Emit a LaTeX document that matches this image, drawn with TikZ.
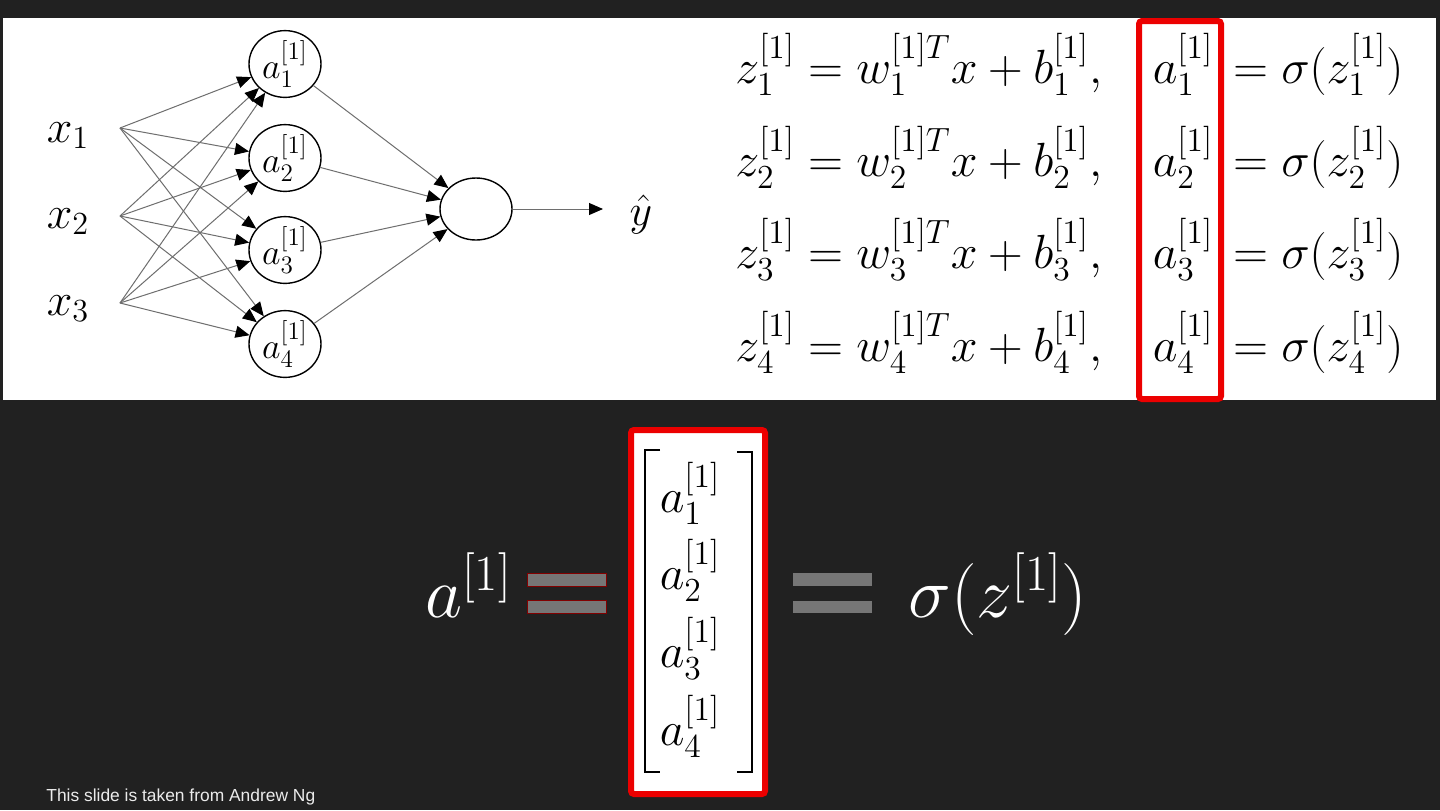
\RequirePackage{fix-cm}
\documentclass[tikz,border=0pt]{standalone}
\usepackage{amsmath,amssymb}
\usepackage{fontspec}
\setsansfont{Liberation Sans}
\usetikzlibrary{arrows.meta,positioning,shapes.geometric}
\definecolor{slidebg}{RGB}{33,33,33}
\definecolor{slidered}{RGB}{236,0,0}
\definecolor{bargray}{RGB}{118,118,118}
\definecolor{wiregray}{RGB}{110,110,110}

\begin{document}
\begin{tikzpicture}[x=0.5pt,y=-0.5pt,
  unit/.style={ellipse,draw,line width=0.7pt,minimum width=36pt,minimum height=31pt,inner sep=0pt,fill=white,font=\fontsize{18}{20}\selectfont},
  wire/.style={-{Triangle[length=7pt,width=6pt,black]},draw=wiregray,line width=0.5pt},
  inlabel/.style={anchor=base,font=\fontsize{23}{26}\selectfont},
  eqline/.style={anchor=base west,inner sep=0pt,font=\fontsize{24}{28}\selectfont},
  eqcol/.style={anchor=base,inner sep=0pt,font=\fontsize{24}{28}\selectfont},
  bigmath/.style={anchor=base west,inner sep=0pt,text=white,font=\fontsize{36}{40}\selectfont},
  redbox/.style={draw=slidered,line width=3pt,rounded corners=1.5pt,inner sep=0pt},
  bar/.style={fill=bargray}
]
  \useasboundingbox (0,0) rectangle (1440,810);
  \fill[slidebg] (0,0) rectangle (1440,810);
  \fill[white] (3,18) rectangle (1436,400);

  % network
  \node[inlabel] (x1) at (68,142) {$x_1$};
  \node[inlabel] (x2) at (68,228) {$x_2$};
  \node[inlabel] (x3) at (68,315) {$x_3$};
  \coordinate (in1) at (120,128);
  \coordinate (in2) at (120,216);
  \coordinate (in3) at (120,303);

  \node[unit] (h1) at (285,64) {$a^{[1]}_1$};
  \node[unit] (h2) at (285,158) {$a^{[1]}_2$};
  \node[unit] (h3) at (285,250) {$a^{[1]}_3$};
  \node[unit] (h4) at (285,344) {$a^{[1]}_4$};
  \node[unit] (out) at (476,209) {};
  \node[inner sep=0pt,font=\fontsize{22}{24}\selectfont] (yhat) at (641,214) {$\hat{y}$};
  \coordinate (yend) at (603,209);

  \draw[wire] (in1)--(h1); \draw[wire] (in1)--(h2); \draw[wire] (in1)--(h3); \draw[wire] (in1)--(h4);
  \draw[wire] (in2)--(h1); \draw[wire] (in2)--(h2); \draw[wire] (in2)--(h3); \draw[wire] (in2)--(h4);
  \draw[wire] (in3)--(h1); \draw[wire] (in3)--(h2); \draw[wire] (in3)--(h3); \draw[wire] (in3)--(h4);
  \draw[wire] (h1)--(out); \draw[wire] (h2)--(out);
  \draw[wire] (h3)--(out); \draw[wire] (h4)--(out);
  \draw[wire] (out)--(yend);

  % equations
  \node[eqline] (z1) at (735,83) {$z^{[1]}_1 = w^{[1]T}_1 x + b^{[1]}_1,$};
  \node[eqline] (z2) at (735,176) {$z^{[1]}_2 = w^{[1]T}_2 x + b^{[1]}_2,$};
  \node[eqline] (z3) at (735,268) {$z^{[1]}_3 = w^{[1]T}_3 x + b^{[1]}_3,$};
  \node[eqline] (z4) at (735,361) {$z^{[1]}_4 = w^{[1]T}_4 x + b^{[1]}_4,$};
  \node[eqcol] (c1) at (1183,83) {$a^{[1]}_1$};
  \node[eqcol] (c2) at (1183,176) {$a^{[1]}_2$};
  \node[eqcol] (c3) at (1183,268) {$a^{[1]}_3$};
  \node[eqcol] (c4) at (1183,361) {$a^{[1]}_4$};
  \node[eqline] (s1) at (1233,83) {$= \sigma(z^{[1]}_1)$};
  \node[eqline] (s2) at (1233,176) {$= \sigma(z^{[1]}_2)$};
  \node[eqline] (s3) at (1233,268) {$= \sigma(z^{[1]}_3)$};
  \node[eqline] (s4) at (1233,361) {$= \sigma(z^{[1]}_4)$};
  \node[redbox,minimum width=41pt,minimum height=189pt] (colbox) at (1180,210) {};

  % vectorised form
  \node[bigmath] (avec) at (425,617) {$a^{[1]}$};
  \fill[bar,draw=slidered!55!black,line width=0.3pt] (527,573) rectangle (606,586);
  \fill[bar,draw=slidered!55!black,line width=0.3pt] (527,600) rectangle (606,613);
  \node[redbox,fill=white,minimum width=67pt,minimum height=182pt] (abox) at (698,612) {};
  \draw[line width=1pt] (660,450)--(645,450)--(645,772)--(660,772);
  \draw[line width=1pt] (737,452)--(752,452)--(752,772)--(737,772);
  \node[eqcol] (m1) at (690,512) {$a^{[1]}_1$};
  \node[eqcol] (m2) at (690,589) {$a^{[1]}_2$};
  \node[eqcol] (m3) at (690,667) {$a^{[1]}_3$};
  \node[eqcol] (m4) at (690,745) {$a^{[1]}_4$};
  \fill[bar] (793,573) rectangle (872,586);
  \fill[bar] (793,601) rectangle (872,613);
  \node[bigmath] (sig) at (908,617) {$\sigma(z^{[1]})$};

  \node[anchor=base west,inner sep=0pt,text=white!92!black,font=\sffamily\fontsize{8.7}{10}\selectfont] (credit) at (46,801) {This slide is taken from Andrew Ng};
\end{tikzpicture}
\end{document}
